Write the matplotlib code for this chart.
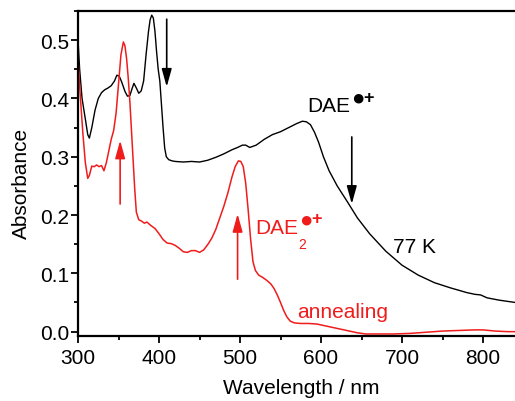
import numpy as np
import matplotlib
matplotlib.use("Agg")
import matplotlib.pyplot as plt
from matplotlib.ticker import MultipleLocator

plt.rcParams['font.family'] = ['Liberation Sans', 'DejaVu Sans']

# black trace (77 K, before annealing)
black_wl = [300, 302, 305, 309, 312, 314, 317, 321, 325, 329, 333, 337, 341, 345, 348,
            351, 354, 358, 361, 364, 367, 369, 372, 375, 378, 381, 384, 387, 389, 391,
            393, 395, 397, 399, 401, 403, 405, 407, 409, 412, 416, 420, 430, 440, 450,
            460, 470, 480, 490, 497, 503, 507, 512, 520, 530, 540, 550, 560, 570, 577,
            582, 587, 592, 597, 603, 610, 620, 632, 645, 660, 680, 700, 720, 740, 760,
            780, 790, 797, 805, 820, 840, 850]
black_abs = [0.500, 0.450, 0.400, 0.365, 0.338, 0.332, 0.350, 0.380, 0.400, 0.410, 0.415,
             0.418, 0.422, 0.430, 0.440, 0.438, 0.428, 0.412, 0.404, 0.405, 0.418, 0.426,
             0.418, 0.409, 0.413, 0.430, 0.475, 0.515, 0.535, 0.543, 0.538, 0.515, 0.480,
             0.450, 0.430, 0.390, 0.350, 0.315, 0.300, 0.295, 0.293, 0.292, 0.291, 0.292,
             0.291, 0.294, 0.299, 0.305, 0.312, 0.316, 0.320, 0.320, 0.316, 0.320, 0.330,
             0.338, 0.343, 0.350, 0.357, 0.361, 0.360, 0.355, 0.342, 0.325, 0.300, 0.276,
             0.250, 0.224, 0.195, 0.168, 0.138, 0.114, 0.097, 0.084, 0.075, 0.067, 0.064,
             0.063, 0.058, 0.054, 0.050, 0.048]

# red trace (after annealing)
red_wl = [300, 303, 306, 309, 312, 314, 317, 320, 323, 326, 329, 332, 335, 338, 341, 344,
          347, 350, 353, 356, 358, 360, 362, 364, 366, 368, 370, 372, 375, 378, 382, 385,
          390, 395, 400, 405, 410, 415, 420, 425, 430, 435, 440, 445, 450, 455, 460, 465,
          470, 475, 480, 485, 490, 494, 498, 501, 504, 507, 510, 513, 516, 519, 523, 528,
          533, 538, 542, 546, 550, 554, 558, 562, 567, 575, 585, 595, 605, 615, 625, 635,
          645, 655, 670, 690, 710, 730, 750, 770, 790, 800, 815, 830, 850]
red_abs = [0.465, 0.400, 0.340, 0.290, 0.263, 0.268, 0.284, 0.283, 0.286, 0.283, 0.285,
           0.276, 0.290, 0.310, 0.330, 0.345, 0.375, 0.425, 0.475, 0.497, 0.490, 0.468,
           0.435, 0.395, 0.345, 0.295, 0.245, 0.205, 0.192, 0.190, 0.186, 0.188, 0.182,
           0.177, 0.168, 0.158, 0.152, 0.151, 0.148, 0.143, 0.137, 0.136, 0.139, 0.139,
           0.136, 0.140, 0.149, 0.160, 0.175, 0.195, 0.215, 0.238, 0.265, 0.283, 0.293,
           0.292, 0.283, 0.255, 0.210, 0.160, 0.120, 0.105, 0.097, 0.093, 0.088, 0.082,
           0.074, 0.063, 0.050, 0.036, 0.025, 0.018, 0.015, 0.014, 0.014, 0.013, 0.010,
           0.007, 0.004, 0.001, -0.002, -0.004, -0.004, -0.004, -0.003, -0.001, 0.001,
           0.002, 0.003, 0.003, 0.001, 0.000, 0.000]

RED = '#f01c1c'
FS = 15

fig = plt.figure(figsize=(5.15, 4.02), dpi=100)
# axes run past the right edge, like the cropped original
ax = fig.add_axes([0.1515, 0.1624, 0.865, 0.8076])

ax.plot(black_wl, black_abs, color='black', lw=1.0)
ax.plot(red_wl, red_abs, color=RED, lw=1.1)

ax.set_xlim(300, 850)
ax.set_ylim(-0.007, 0.55)
ax.xaxis.set_major_locator(MultipleLocator(100))
ax.xaxis.set_minor_locator(MultipleLocator(50))
ax.yaxis.set_major_locator(MultipleLocator(0.1))
ax.yaxis.set_minor_locator(MultipleLocator(0.05))
ax.yaxis.set_major_formatter(matplotlib.ticker.FormatStrFormatter('%.1f'))

for s in ax.spines.values():
    s.set_linewidth(1.6)
ax.spines['right'].set_visible(False)
ax.tick_params(which='major', direction='out', length=5, width=1.3, labelsize=FS)
ax.tick_params(which='minor', direction='out', length=2.8, width=1.3)
ax.tick_params(axis='y', which='both', pad=1.5)
ax.tick_params(axis='x', which='major', pad=4)

ax.set_xlabel('Wavelength / nm', fontsize=FS, labelpad=8)
ax.set_ylabel('Absorbance', fontsize=FS)
ax.yaxis.set_label_coords(-0.106, 0.472)

# arrows
arr = dict(arrowstyle='-|>,head_length=0.9,head_width=0.25', lw=1.2, mutation_scale=12,
           shrinkA=0, shrinkB=0)
ax.annotate('', xy=(409.5, 0.42), xytext=(409.5, 0.536),
            arrowprops=dict(arr, color='black'))
ax.annotate('', xy=(638, 0.219), xytext=(638, 0.334),
            arrowprops=dict(arr, color='black'))
ax.annotate('', xy=(352, 0.328), xytext=(352, 0.219),
            arrowprops=dict(arr, color=RED))
ax.annotate('', xy=(497, 0.202), xytext=(497, 0.09),
            arrowprops=dict(arr, color=RED))


def radical_cation(base, color):
    # big bullet + bold plus as the superscript
    dot = ax.annotate('\u25cf', xy=(1, 1), xycoords=base, xytext=(0.5, -1.5),
                      textcoords='offset points', fontsize=16, color=color,
                      va='center', ha='left')
    ax.annotate('+', xy=(1, 0.5), xycoords=dot, xytext=(-0.5, 0.5),
                textcoords='offset points', fontsize=13, fontweight='bold',
                color=color, va='center', ha='left')


t1 = ax.text(582.7, 0.379, 'DAE', fontsize=FS, color='black', va='baseline')
radical_cation(t1, 'black')

t2 = ax.text(518.5, 0.170, 'DAE', fontsize=FS, color=RED, va='baseline')
ax.annotate('2', xy=(1, 0), xycoords=t2, xytext=(0, -0.5), textcoords='offset points',
            fontsize=10, color=RED, va='top', ha='left')
radical_cation(t2, RED)

ax.text(689, 0.137, '77 K', fontsize=FS, color='black', va='baseline')
ax.text(570, 0.025, 'annealing', fontsize=FS, color=RED, va='baseline')

fig.savefig('out.png', dpi=100)
